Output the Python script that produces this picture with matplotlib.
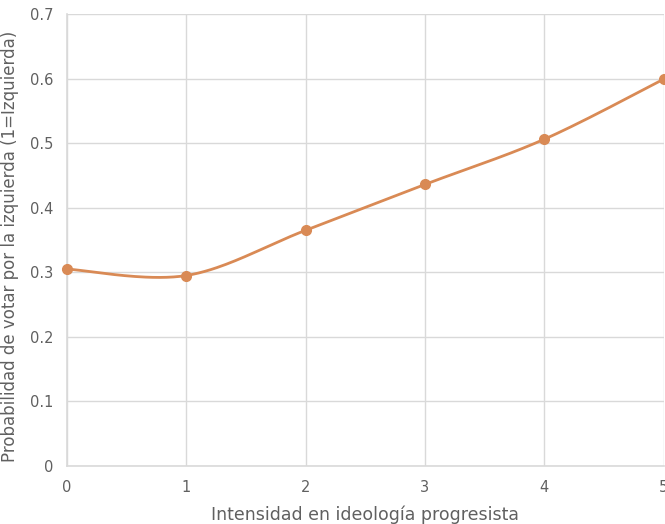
import numpy as np
import matplotlib.pyplot as plt

# data
intensidad = [0, 1, 2, 3, 4, 5]
prob_izquierda = [0.305, 0.295, 0.365, 0.436, 0.506, 0.599]
y_ticks = [0, 0.1, 0.2, 0.3, 0.4, 0.5, 0.6, 0.7]
y_tick_labels = ['0', '0.1', '0.2', '0.3', '0.4', '0.5', '0.6', '0.7']

LINE_COLOR = '#D98A55'
GRID_COLOR = '#D9D9D9'
TEXT_COLOR = '#606060'

plt.rcParams['font.family'] = ['DejaVu Sans']


def smooth_curve(x, y, n=40):
    """Excel-style smoothed line: cubic Bezier between points, tangent from neighbours."""
    x = np.asarray(x, float)
    y = np.asarray(y, float)
    pts = np.column_stack([x, y])
    out = []
    for i in range(len(pts) - 1):
        p0 = pts[max(i - 1, 0)]
        p1 = pts[i]
        p2 = pts[i + 1]
        p3 = pts[min(i + 2, len(pts) - 1)]
        c1 = p1 + (p2 - p0) / 6
        c2 = p2 - (p3 - p1) / 6
        t = np.linspace(0, 1, n)[:, None]
        seg = ((1 - t) ** 3) * p1 + 3 * ((1 - t) ** 2) * t * c1 + 3 * (1 - t) * t ** 2 * c2 + t ** 3 * p2
        out.append(seg if i == 0 else seg[1:])
    seg = np.vstack(out)
    return seg[:, 0], seg[:, 1]


fig = plt.figure(figsize=(6.65, 5.24), dpi=100)
ax = fig.add_axes([0.1008, 0.1107, 0.897, 0.8626])

sx, sy = smooth_curve(intensidad, prob_izquierda)
ax.plot(sx, sy, color=LINE_COLOR, linewidth=2.0, clip_on=False, zorder=3)
ax.plot(intensidad, prob_izquierda, 'o', color=LINE_COLOR, markersize=7, clip_on=False, zorder=4)

ax.set_xlim(0, 5)
ax.set_ylim(0, 0.7)
ax.set_xticks(intensidad)
ax.set_yticks(y_ticks)
ax.set_yticklabels(y_tick_labels)
ax.grid(True, color=GRID_COLOR, linewidth=1.0)
ax.set_axisbelow(True)
for side in ['top', 'right']:
    ax.spines[side].set_visible(False)
for side in ['left', 'bottom']:
    ax.spines[side].set_color(GRID_COLOR)
    ax.spines[side].set_linewidth(1.2)
ax.tick_params(length=0, labelsize=10.5, colors=TEXT_COLOR, pad=10)

ax.set_xlabel('Intensidad en ideología progresista', fontsize=12.5, color=TEXT_COLOR, labelpad=8)
ax.set_ylabel('Probabilidad de votar por la izquierda (1=Izquierda)', fontsize=12,
              color=TEXT_COLOR, labelpad=8)
ax.yaxis.set_label_coords(-0.08, 0.485)

fig.savefig('out.png', dpi=100)
